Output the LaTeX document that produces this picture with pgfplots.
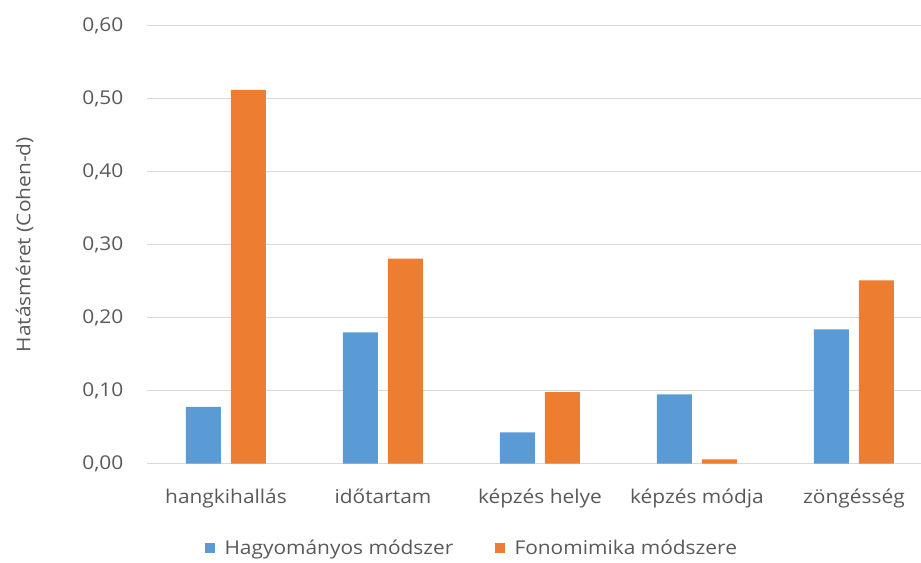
\documentclass[border=0pt]{standalone}
\usepackage{pgfplots}
\pgfplotsset{compat=1.18}
\usepackage{fontspec}
\setmainfont{Open Sans}[FakeStretch=1.1]
\definecolor{cblue}{HTML}{5B9BD5}
\definecolor{corange}{HTML}{ED7D31}
\definecolor{cgrid}{HTML}{D9D9D9}
\definecolor{ctext}{HTML}{595959}
\begin{document}
\begin{tikzpicture}
\begin{axis}[
  at={(0,0)}, anchor=south west,
  scale only axis,
  width=773.5bp, height=438bp,
  ybar=10bp, bar width=35bp,
  xmin=-0.5, xmax=4.427,
  ymin=0, ymax=0.6,
  ytick={0,0.1,0.2,0.3,0.4,0.5,0.6},
  xtick={0,1,2,3,4},
  xticklabels={hangkihallás,időtartam,képzés helye,képzés módja,zöngésség},
  major tick length=0pt,
  axis line style={draw=none},
  ymajorgrids, grid style={cgrid, line width=1.2bp},
  tick label style={font=\fontsize{19bp}{22bp}\selectfont, text=ctext},
  /pgf/number format/fixed,
  /pgf/number format/fixed zerofill,
  /pgf/number format/precision=2,
  /pgf/number format/use comma,
  /pgf/number format/assume math mode=true,
  yticklabel style={anchor=east, inner sep=0pt, xshift=-24bp},
  xticklabel style={anchor=base, inner sep=0pt, yshift=-39.6bp},
  ylabel={Hatásméret (Cohen-d)},
  every axis y label/.style={at={(axis description cs:-0.159,0.5)}, rotate=90, anchor=center, font=\fontsize{19bp}{22bp}\selectfont, text=ctext},
  legend columns=2,
  legend style={at={(axis description cs:0.4186,-0.1925)}, anchor=center, draw=none, fill=none,
    font=\fontsize{19bp}{22bp}\selectfont, text=ctext,
    /tikz/every even column/.append style={column sep=40bp},
    nodes={inner sep=1bp}},
  legend image code/.code={\fill[#1] (0bp,-5bp) rectangle (10.5bp,5.5bp); \path (19bp,0bp);},
]
\addplot[fill=cblue, draw=none] coordinates {(0,0.078) (1,0.180) (2,0.043) (3,0.095) (4,0.184)};
\addlegendentry{Hagyományos módszer}
\addplot[fill=corange, draw=none] coordinates {(0,0.512) (1,0.281) (2,0.098) (3,0.006) (4,0.251)};
\addlegendentry{Fonomimika módszere}
\end{axis}
\pgfresetboundingbox
\path[use as bounding box] (-147.5bp,-99.3bp) rectangle (773.5bp,463.7bp);
\end{tikzpicture}
\end{document}
